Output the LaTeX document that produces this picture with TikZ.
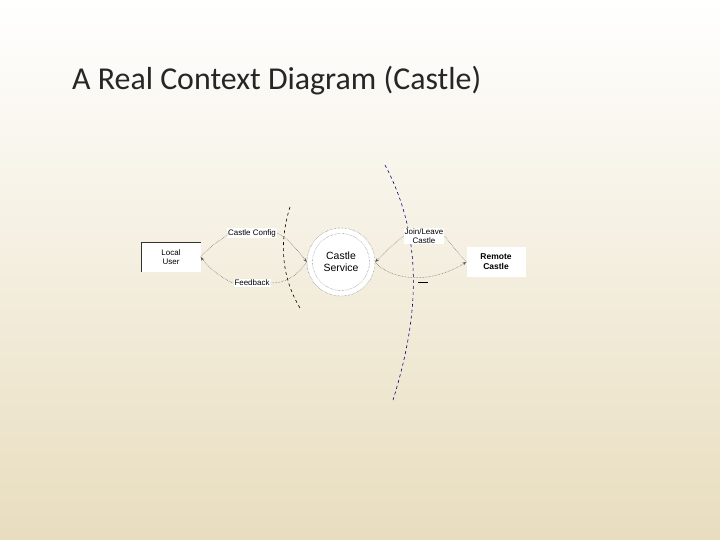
\documentclass[tikz,border=0pt]{standalone}
\usepackage{fontspec}
\setmainfont{Carlito}
\newfontfamily\arial{Liberation Sans}
\usetikzlibrary{arrows.meta}
\begin{document}
\begin{tikzpicture}[x=1bp,y=-1bp,
  lbl/.style={font=\arial\fontsize{8}{9}\selectfont,fill=white,inner sep=1pt,align=center},
  line/.style={densely dotted,gray!70!black,line width=0.5pt},
  flow/.style={line,-{Stealth[length=4pt,width=3pt]}},
  box/.style={fill=white,minimum width=59bp,minimum height=29bp,inner sep=0pt,align=center,font=\arial\fontsize{8}{9.5}\selectfont}]
\shade[top color=white,bottom color={rgb,255:red,232;green,221;blue,190}] (0,0) rectangle (720,540);
\useasboundingbox (0,0) rectangle (720,540);
\node[anchor=base west,font=\fontsize{32}{36}\selectfont,inner sep=0pt,text=black!85] (title) at (72,90) {A Real Context Diagram (Castle)};
\node[box] (user) at (171,257) {Local\\User};
\draw[black!80] (user.south west) -- (user.north west) -- (user.north east);
\node[box,font=\arial\bfseries\fontsize{8.5}{10}\selectfont] (remote) at (496,262) {Remote\\Castle};
\node[circle,fill=white,draw=gray!70!black,densely dotted,minimum size=68bp,inner sep=0pt] (svc) at (341,262) {};
\node[circle,draw=gray!70!black,densely dotted,minimum size=57bp,inner sep=0pt,align=center,font=\arial\fontsize{10.5}{12.5}\selectfont] (svcin) at (341,262) {Castle\\Service};
\draw[dashed,black,line width=0.6pt] (290,207) .. controls (278,245) and (283,280) .. (300,308);
\draw[dashed,blue!50!black,line width=0.6pt] (385,165) .. controls (425,240) and (418,320) .. (393,400);
\node[lbl] (cc) at (252,233) {Castle Config};
\node[lbl] (fb) at (252,283) {Feedback};
\node[lbl] (jl) at (424,236) {Join/Leave\\Castle};
\draw[line] (user.east) .. controls (215,240) and (235,233) .. (cc.west);
\draw[flow] (cc.east) .. controls (285,236) and (296,248) .. (svc.west);
\draw[line] (svc.west) .. controls (296,277) and (285,283) .. (fb.east);
\draw[flow] (fb.west) .. controls (230,283) and (210,270) .. (user.east);
\draw[line] (remote.west) .. controls (455,250) and (448,240) .. (jl.east);
\draw[flow] (jl.west) .. controls (395,243) and (385,252) .. (svc.east);
\draw[flow] (svc.east) .. controls (390,280) and (430,285) .. (remote.west);
\draw[black] (418,282) -- (428,282);
\end{tikzpicture}
\end{document}
